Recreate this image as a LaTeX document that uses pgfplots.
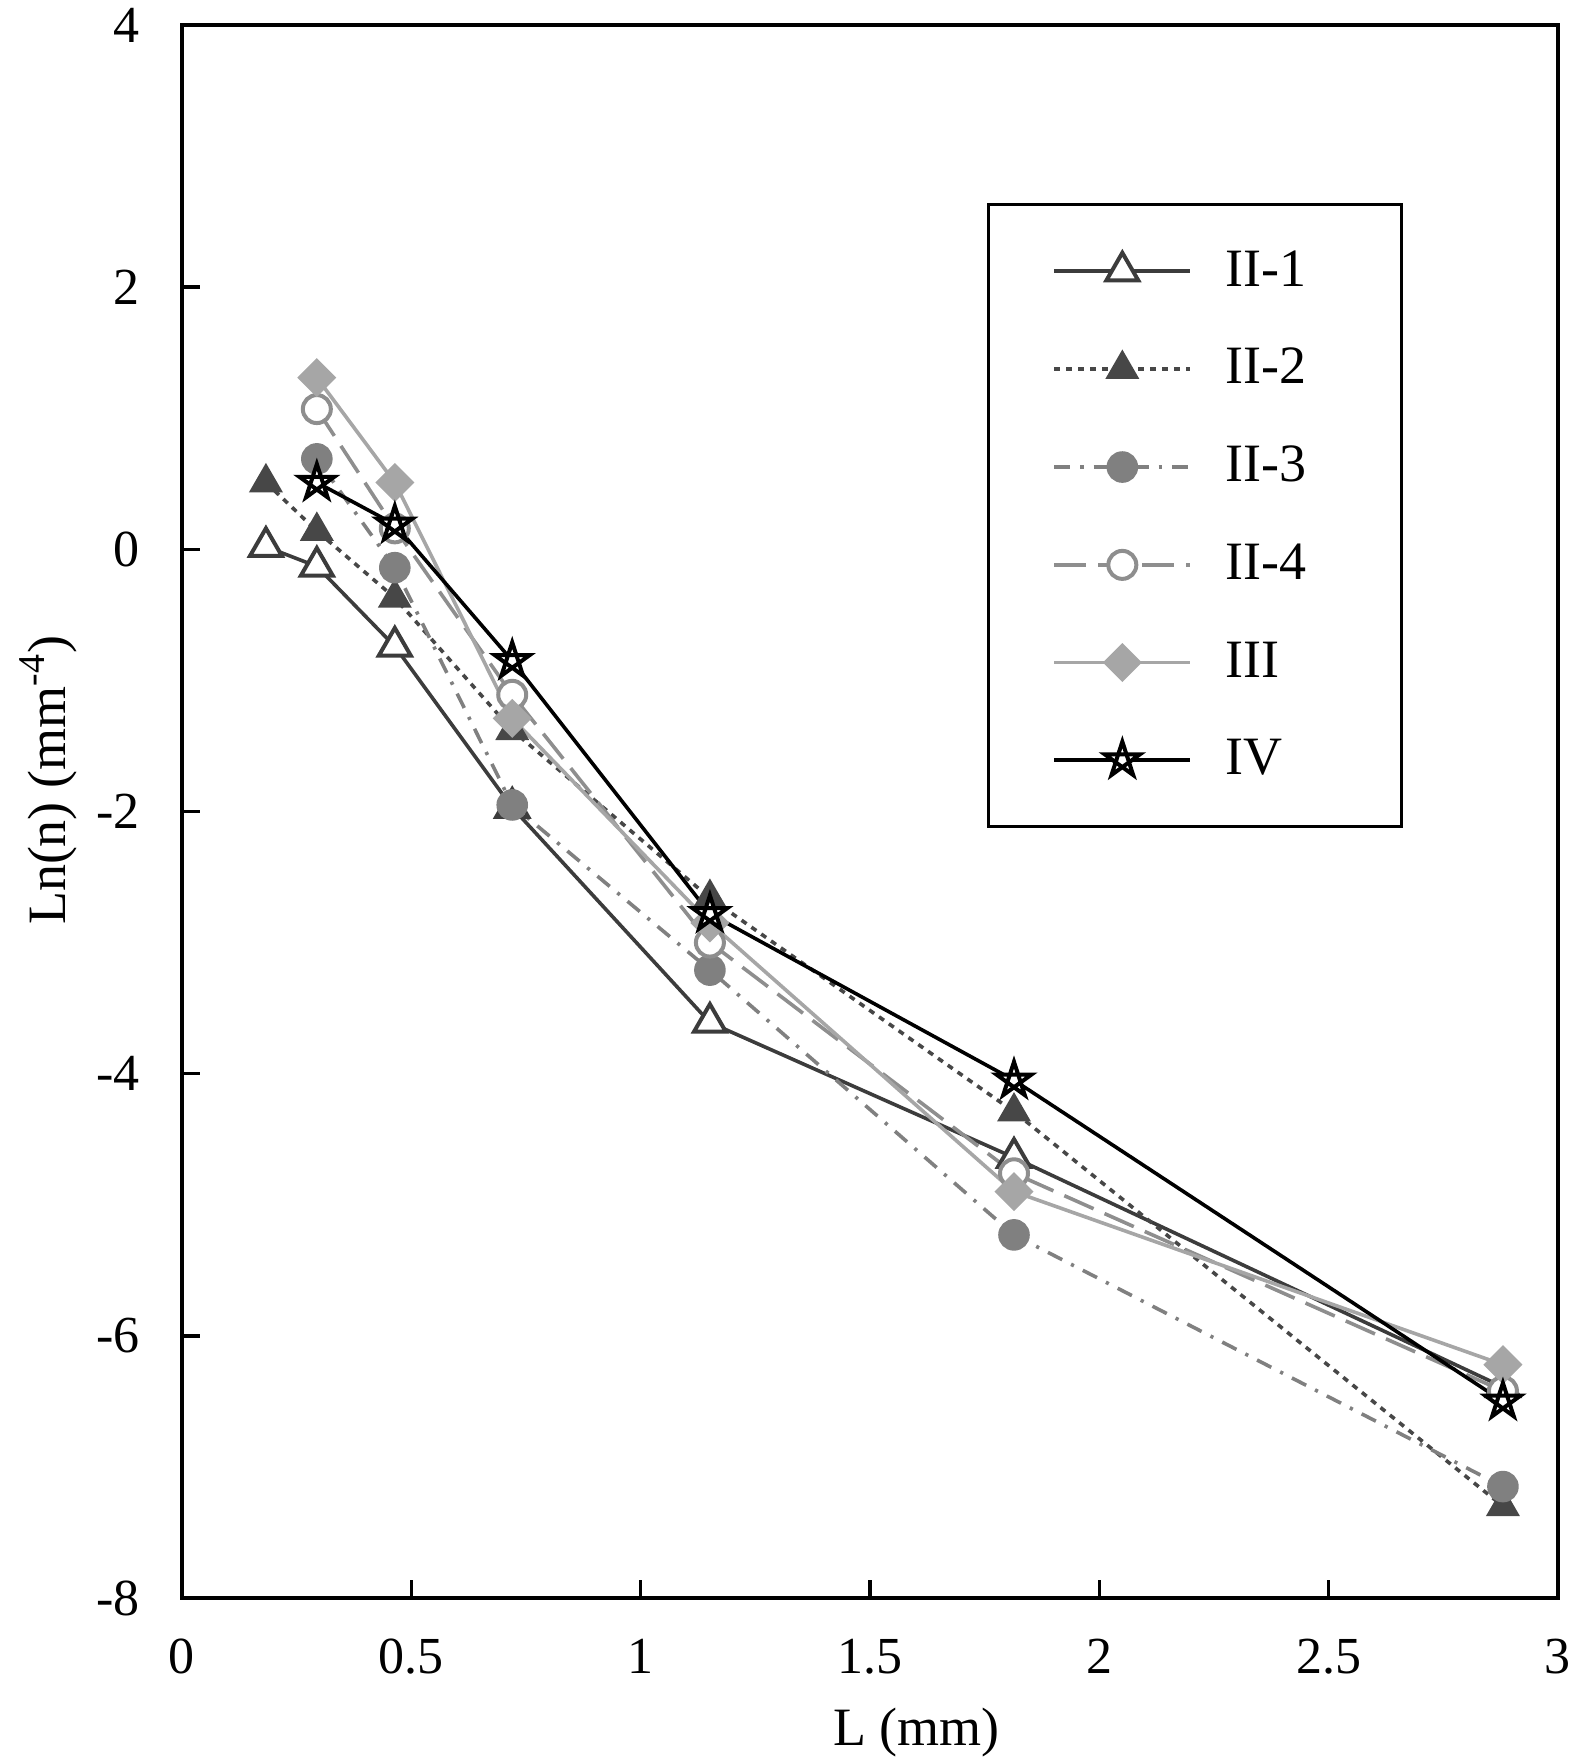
\documentclass[border=0pt]{standalone}
\usepackage{fontspec}
\setmainfont{Liberation Serif}
\usepackage{pgfplots}
\pgfplotsset{compat=1.18}
\usetikzlibrary{plotmarks}
\pgfdeclareplotmark{pentagram}{%
  \pgfpathmoveto{\pgfpointpolar{90}{\pgfplotmarksize}}%
  \pgfpathlineto{\pgfpointpolar{234}{\pgfplotmarksize}}%
  \pgfpathlineto{\pgfpointpolar{18}{\pgfplotmarksize}}%
  \pgfpathlineto{\pgfpointpolar{162}{\pgfplotmarksize}}%
  \pgfpathlineto{\pgfpointpolar{306}{\pgfplotmarksize}}%
  \pgfpathclose
  \pgfusepathqfillstroke}
\definecolor{cA}{HTML}{3C3C3C}
\definecolor{cB}{HTML}{474747}
\definecolor{cC}{HTML}{808080}
\definecolor{cD}{HTML}{8E8E8E}
\definecolor{cE}{HTML}{A6A6A6}
\begin{document}
\begin{tikzpicture}
\begin{axis}[
  scale only axis,
  width=344pt, height=393.25pt,
  xmin=0, xmax=3, ymin=-8, ymax=4,
  xtick={0,0.5,1,1.5,2,2.5,3},
  xticklabels={0,0.5,1,1.5,2,2.5,3},
  ytick={-8,-6,-4,-2,0,2,4},
  yticklabels={-8,-6,-4,-2,0,2,4},
  tick align=inside,
  xtick pos=bottom, ytick pos=left,
  major tick length=4.5pt,
  tick style={line width=0.9pt, black},
  axis line style={line width=0.9pt},
  ticklabel style={font=\fontsize{13}{15.6}\selectfont},
  xticklabel style={yshift=-6.8pt},
  yticklabel style={xshift=-7pt},
  xlabel={L (mm)},
  ylabel={Ln(n) (mm\textsuperscript{-4})},
  every axis x label/.style={at={(axis description cs:0.534,-0.0858)}, anchor=center, font=\fontsize{13.5}{16}\selectfont},
  every axis y label/.style={at={(axis description cs:-0.0974,0.52)}, rotate=90, anchor=center, font=\fontsize{13.5}{16}\selectfont},
  legend style={
    at={(0.585,0.887)}, anchor=north west,
    draw=black, line width=0.8pt,
    inner xsep=16pt, inner ysep=9.5pt,
    row sep=10.05pt,
    font=\fontsize{13.5}{16}\selectfont,
    /tikz/every odd column/.append style={column sep=6.3pt},
  },
  legend cell align=left,
  legend image code/.code={%
    \draw[mark repeat=2,mark phase=2] plot coordinates {(0pt,0pt) (17pt,0pt) (34pt,0pt)};},
]
\addplot[color=cA, line width=0.9pt, mark=triangle*, mark size=4.6pt,
  mark options={solid, fill=white, draw=cA, line width=1pt}]
  coordinates {(0.183,0.02) (0.294,-0.13) (0.464,-0.74) (0.72,-1.97) (1.151,-3.61) (1.814,-4.64) (2.88,-6.39)};
\addlegendentry{\makebox[26pt][l]{II-1}}
\addplot[color=cB, line width=0.9pt, dash pattern=on 1.5pt off 1.5pt, mark=triangle*, mark size=4pt,
  mark options={solid, fill=cB, draw=cB}]
  coordinates {(0.183,0.51) (0.294,0.14) (0.464,-0.37) (0.72,-1.38) (1.151,-2.66) (1.814,-4.29) (2.88,-7.3)};
\addlegendentry{\makebox[26pt][l]{II-2}}
\addplot[color=cC, line width=0.9pt, dash pattern=on 4pt off 2.5pt on 0.8pt off 2.5pt, mark=*, mark size=3.5pt,
  mark options={solid, fill=cC, draw=cC}]
  coordinates {(0.294,0.69) (0.464,-0.14) (0.72,-1.95) (1.151,-3.21) (1.814,-5.23) (2.88,-7.15)};
\addlegendentry{\makebox[26pt][l]{II-3}}
\addplot[color=cD, line width=0.9pt, dash pattern=on 8pt off 3pt, mark=*, mark size=3.5pt,
  mark options={solid, fill=white, draw=cD, line width=1pt}]
  coordinates {(0.294,1.07) (0.464,0.16) (0.72,-1.11) (1.151,-3.0) (1.814,-4.76) (2.88,-6.42)};
\addlegendentry{\makebox[26pt][l]{II-4}}
\addplot[color=cE, line width=0.9pt, mark=square*, mark size=3pt,
  mark options={solid, fill=cE, draw=cE, rotate=45}]
  coordinates {(0.294,1.31) (0.464,0.51) (0.72,-1.29) (1.151,-2.85) (1.814,-4.9) (2.88,-6.22)};
\addlegendentry{\makebox[26pt][l]{III}}
\addplot[color=black, line width=0.9pt, mark=pentagram, mark size=4.6pt,
  mark options={solid, fill=white, draw=black, line width=1pt}]
  coordinates {(0.294,0.51) (0.464,0.19) (0.72,-0.85) (1.151,-2.78) (1.814,-4.05) (2.88,-6.5)};
\addlegendentry{\makebox[26pt][l]{IV}}
\end{axis}
\pgfresetboundingbox
\path ([shift={(-45.5pt,-41.5pt)}]current axis.south west) rectangle ([shift={(4.25pt,6.25pt)}]current axis.north east);
\end{tikzpicture}
\end{document}
